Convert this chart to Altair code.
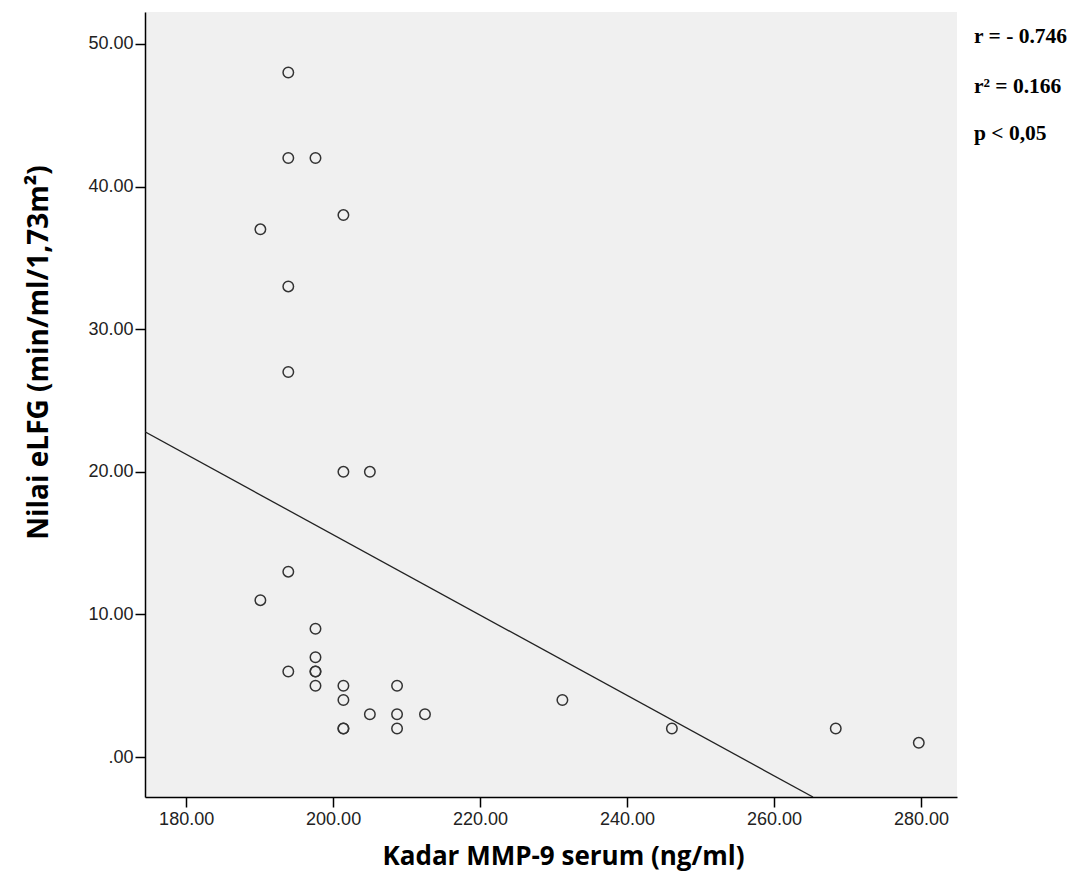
import altair as alt
import pandas as pd

# MMP-9 serum (ng/ml) vs eLFG values
mmp9 = [193.9, 193.9, 197.6, 201.4, 190.1, 193.9, 193.9, 201.4, 205.0, 193.9,
        190.1, 197.6, 197.6, 197.6, 197.6, 193.9, 197.6, 201.4, 201.4, 201.4,
        201.4, 205.0, 208.7, 208.7, 208.7, 212.5, 231.2, 246.1, 268.4, 279.7]
elfg = [48, 42, 42, 38, 37, 33, 27, 20, 20, 13,
        11, 9, 7, 6, 6, 6, 5, 5, 4, 2,
        2, 3, 5, 3, 2, 3, 4, 2, 2, 1]

# regression line end points
fit_x = [174.4, 265.3]
fit_y = [22.8, -2.8]

stats = ["r = - 0.746", "r\u00b2 = 0.166", "p < 0,05"]

df = pd.DataFrame({"mmp9": mmp9, "elfg": elfg})
fit_df = pd.DataFrame({"mmp9": fit_x, "elfg": fit_y})

xscale = alt.Scale(domain=[174.4, 284.9], nice=False, zero=False)
yscale = alt.Scale(domain=[-2.8, 52.24], nice=False, zero=False)

xaxis = alt.Axis(values=[180, 200, 220, 240, 260, 280], format=".2f",
                 title="Kadar MMP-9 serum (ng/ml)", titlePadding=15,
                 titleFontSize=26, titleX=418, labelPadding=3)
yaxis = alt.Axis(values=[0, 10, 20, 30, 40, 50],
                 labelExpr="datum.value == 0 ? '.00' : format(datum.value, '.2f')",
                 title="Nilai eLFG (min/ml/1,73m\u00b2)", titlePadding=34,
                 titleFontSize=28, titleY=340, labelPadding=2)

points = alt.Chart(df).mark_point(
    shape="circle", filled=False, size=110, strokeWidth=1.5, color="#333333", opacity=1
).encode(
    x=alt.X("mmp9:Q", scale=xscale, axis=xaxis),
    y=alt.Y("elfg:Q", scale=yscale, axis=yaxis),
)

line = alt.Chart(fit_df).mark_line(color="#222222", strokeWidth=1.3, clip=True).encode(
    x=alt.X("mmp9:Q", scale=xscale),
    y=alt.Y("elfg:Q", scale=yscale),
)

layers = [line, points]
ypos = [25, 75, 122]
for s, yp in zip(stats, ypos):
    layers.append(
        alt.Chart(pd.DataFrame({"label": [s]})).mark_text(
            align="left", baseline="middle", font="Liberation Serif",
            fontWeight="bold", fontSize=21.5, color="black"
        ).encode(text="label:N", x=alt.value(829), y=alt.value(yp))
    )

chart = alt.layer(*layers).properties(
    width=812, height=785,
    padding={"left": 137, "top": 4, "right": 110, "bottom": 84},
    autosize="none",
).configure_view(
    fill="#F0F0F0", stroke=None
).configure_axis(
    grid=False, domainColor="black", domainWidth=1.5, tickColor="black",
    tickSize=10, tickWidth=1.5, labelFont="Liberation Sans", labelFontSize=18,
    labelColor="#222222", titleFont="Open Sans", titleFontWeight="bold",
    titleColor="black"
)

chart.save("out.html", embed_options={"renderer": "svg", "actions": False})
